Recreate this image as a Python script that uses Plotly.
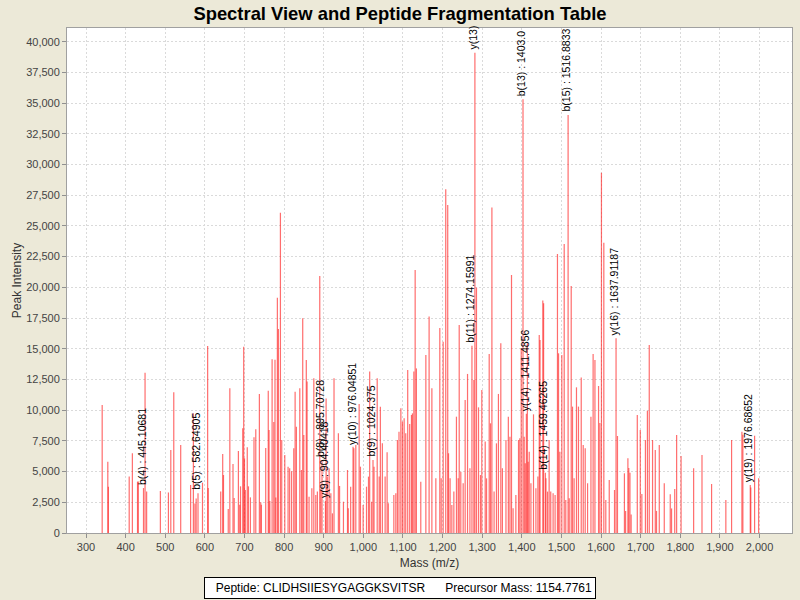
import plotly.graph_objects as go

# peak list (m/z, intensity)
mz = [
    340.8, 355.0, 356.5, 409.0, 417.0, 430.0, 432.0, 445.1, 449.0, 453.0,
    487.7, 508.0, 514.0, 521.5, 539.0, 564.0, 571.0, 575.0, 578.0, 582.65,
    594.0, 607.0, 608.5, 640.0, 645.0, 647.0, 659.0, 663.0, 671.0, 674.0,
    684.6, 688.0, 690.0, 695.6, 698.0, 700.0, 702.0, 707.0, 710.0, 715.0,
    724.0, 728.5, 737.6, 741.0, 742.5, 753.6, 760.0, 762.0, 764.0, 769.7,
    774.0, 777.0, 779.0, 783.0, 785.6, 790.7, 794.0, 801.7, 810.0, 814.0,
    819.0, 824.4, 827.8, 831.0, 839.6, 843.7, 847.0, 849.7, 856.0, 858.0,
    863.0, 870.0, 875.0, 880.0, 884.0, 890.0, 892.7, 895.7, 904.4, 906.0,
    909.0, 913.6, 918.0, 922.0, 926.0, 937.0, 940.0, 949.8, 960.0, 962.0,
    968.0, 974.0, 976.05, 981.0, 989.4, 992.7, 999.5, 1008.0, 1013.0, 1016.0,
    1021.0, 1024.375, 1027.0, 1035.0, 1040.0, 1043.0, 1048.0, 1055.0, 1060.0, 1063.0,
    1077.0, 1082.0, 1086.0, 1090.0, 1094.7, 1098.7, 1103.0, 1107.0, 1112.0, 1117.0,
    1121.5, 1124.0, 1127.5, 1130.8, 1134.0, 1145.0, 1157.8, 1166.0, 1173.0, 1183.0,
    1193.0, 1196.5, 1201.5, 1208.0, 1213.0, 1215.0, 1219.0, 1223.4, 1228.5, 1235.0,
    1239.4, 1242.0, 1246.0, 1252.0, 1257.0, 1263.0, 1269.0, 1274.16, 1279.0, 1281.6,
    1285.6, 1290.7, 1295.7, 1299.0, 1307.6, 1311.0, 1317.7, 1321.0, 1324.5, 1330.0,
    1336.0, 1341.0, 1347.0, 1351.0, 1360.0, 1366.0, 1370.0, 1374.0, 1378.0, 1385.0,
    1391.7, 1395.0, 1398.5, 1403.0, 1406.0, 1408.6, 1411.49, 1414.0, 1416.0, 1418.7,
    1423.0, 1429.5, 1435.6, 1440.6, 1444.0, 1446.0, 1453.0, 1455.0, 1459.46, 1461.0,
    1465.0, 1469.0, 1473.0, 1479.0, 1484.0, 1490.0, 1492.7, 1496.0, 1501.0, 1507.0,
    1511.0, 1516.88, 1519.7, 1524.7, 1528.0, 1532.0, 1538.0, 1543.0, 1550.0, 1555.0,
    1560.0, 1566.0, 1574.5, 1580.0, 1584.6, 1593.7, 1597.0, 1601.0, 1607.0, 1612.0,
    1620.7, 1634.0, 1637.91, 1641.5, 1659.0, 1662.0, 1667.8, 1670.0, 1673.0, 1676.0,
    1691.5, 1699.0, 1703.0, 1712.0, 1717.0, 1721.7, 1730.0, 1736.9, 1740.0, 1747.0,
    1759.6, 1774.7, 1778.0, 1786.0, 1790.8, 1802.0, 1833.7, 1854.8, 1879.0, 1915.0,
    1929.5, 1955.6, 1958.0, 1976.69, 1978.0, 1987.6, 1997.8,
]
intensity = [
    10420, 5800, 3770, 4590, 6490, 4180, 4200, 3660, 13050, 3370,
    3420, 3300, 6760, 11460, 7170, 3910, 9740, 2400, 2800, 3230,
    4100, 15230, 3660, 3370, 6430, 4720, 1950, 11780, 5620, 2850,
    6680, 2300, 3800, 8530, 15170, 6080, 3500, 6980, 3800, 2900,
    7790, 8440, 11320, 2500, 2300, 6920, 11590, 8390, 2600, 14140,
    9040, 14100, 2900, 19160, 16600, 26080, 7570, 6350, 5400, 5270,
    5020, 6890, 11510, 8660, 11780, 5130, 17480, 7980, 14090, 12330,
    2960, 3640, 12590, 3090, 3370, 20930, 3500, 5900, 2600, 10960,
    4590, 5270, 3230, 1600, 12590, 8120, 3830, 2550, 5130, 2010,
    3770, 7030, 6900, 7170, 10500, 5400, 2280, 3770, 4590, 13140,
    2550, 5940, 5400, 12590, 4590, 10280, 7300, 4590, 6570, 2420,
    3090, 3230, 7570, 8250, 10150, 9070, 9340, 8120, 13270, 8880,
    9610, 9740, 13140, 21420, 13400, 4180, 14500, 17620, 11780, 4450,
    16690, 4450, 15580, 27990, 26710, 6490, 4450, 2280, 3370, 9470,
    4450, 16940, 4990, 4050, 10830, 12950, 5270, 15250, 12460, 39110,
    19980, 10230, 4720, 11650, 7440, 4450, 14580, 8930, 26500, 3370,
    7300, 11320, 15440, 5270, 7570, 9470, 7840, 21010, 2010, 3090,
    7570, 7710, 15040, 35310, 7840, 5670, 9700, 15440, 5810, 6620,
    4050, 9660, 3640, 4590, 16120, 15720, 18920, 18700, 4900, 4450,
    3370, 7570, 3370, 3230, 3090, 22720, 14630, 6620, 14500, 23530,
    2690, 34040, 2820, 20110, 10290, 4450, 11860, 10290, 12650, 7170,
    6900, 4050, 9470, 14580, 14090, 11970, 8950, 29340, 23640, 2690,
    4320, 3500, 15850, 7900, 4860, 1800, 6080, 5300, 4900, 1500,
    9610, 8390, 3180, 7570, 9960, 15310, 7570, 6760, 1800, 7170,
    4050, 3150, 2000, 3580, 7980, 6270, 5270, 6350, 3990, 2690,
    7570, 8250, 8000, 3910, 3700, 7920, 4450,
]

# fragment ion labels (text, m/z, peak intensity); top two are cut by the plot edge
ion_labels = [
    "b(4) : 445.10681", "b(5) : 582.64905", "b(8) : 895.70728", "y(9) : 904.40418",
    "y(10) : 976.04851", "b(9) : 1024.375", "b(11) : 1274.15991", "y(13)",
    "b(13) : 1403.0", "y(14) : 1411.4856", "b(14) : 1459.46265", "b(15) : 1516.8833",
    "y(16) : 1637.91187", "y(19) : 1976.68652",
]
ion_mz = [445.1, 582.65, 895.7, 904.4, 976.05, 1024.375, 1274.16, 1281.6,
          1403.0, 1411.49, 1459.46, 1516.88, 1637.91, 1976.69]
ion_int = [3660, 3230, 5900, 2600, 6900, 5940, 15250, 39110,
           35310, 9700, 4900, 34040, 15850, 3910]

peptide = "CLIDHSIIESYGAGGKSVITSR"
precursor_mass = 1154.7761

FONT = "Liberation Sans, Arial, sans-serif"
BG = "#ECE9D8"

# stick spectrum: one vertical segment per peak
xs, ys = [], []
for m, i in zip(mz, intensity):
    xs += [m, m, None]
    ys += [0, i, None]

fig = go.Figure(
    go.Scatter(
        x=xs, y=ys, mode="lines",
        line=dict(color="rgba(255,30,30,0.65)", width=1.2),
        hoverinfo="skip", showlegend=False,
    )
)

for text, m, i in zip(ion_labels, ion_mz, ion_int):
    fig.add_annotation(
        x=m, y=i, text=text, showarrow=False, textangle=-90,
        xanchor="center", yanchor="bottom", xshift=-2, yshift=1,
        font=dict(family=FONT, size=10.5, color="black"),
    )

fig.add_annotation(
    xref="paper", yref="paper", x=0.4593, y=-0.108,
    xanchor="center", yanchor="middle", showarrow=False,
    text=f"Peptide: {peptide}" + "&nbsp;" * 6 + f"Precursor Mass: {precursor_mass}",
    width=384, align="right",
    font=dict(family=FONT, size=12, color="black"),
    bgcolor="white", bordercolor="black", borderwidth=1, borderpad=3,
)

axis_common = dict(
    showgrid=True, gridcolor="#dadada", griddash="2px,2px", gridwidth=1,
    showline=True, linecolor="#a0a0a0", mirror=True,
    ticks="outside", ticklen=4, tickcolor="#909090",
    tickfont=dict(family=FONT, size=11, color="#444444"),
    zeroline=False, tickformat=",d",
)

fig.update_layout(
    width=800, height=600,
    paper_bgcolor=BG, plot_bgcolor="white",
    margin=dict(l=67, r=8, t=28, b=67),
    title=dict(
        text="<b>Spectral View and Peptide Fragmentation Table</b>",
        x=0.5, xref="container", xanchor="center", y=0.978, yanchor="middle",
        font=dict(family=FONT, size=18.4, color="black"),
    ),
    xaxis=dict(
        axis_common, range=[252, 2082], dtick=100, tick0=0,
        title=dict(text="Mass (m/z)", font=dict(family=FONT, size=12, color="#333333"), standoff=6),
    ),
    yaxis=dict(
        axis_common, range=[0, 41115], dtick=2500, tick0=0,
        title=dict(text="Peak Intensity", font=dict(family=FONT, size=12, color="#333333"), standoff=1),
    ),
)

# drop the browser's default body margin so the figure sits at the window corner
fig.write_html(
    "out.html",
    config={"displayModeBar": False},
    post_script=f"document.body.style.margin='0';document.body.style.background='{BG}';",
)
